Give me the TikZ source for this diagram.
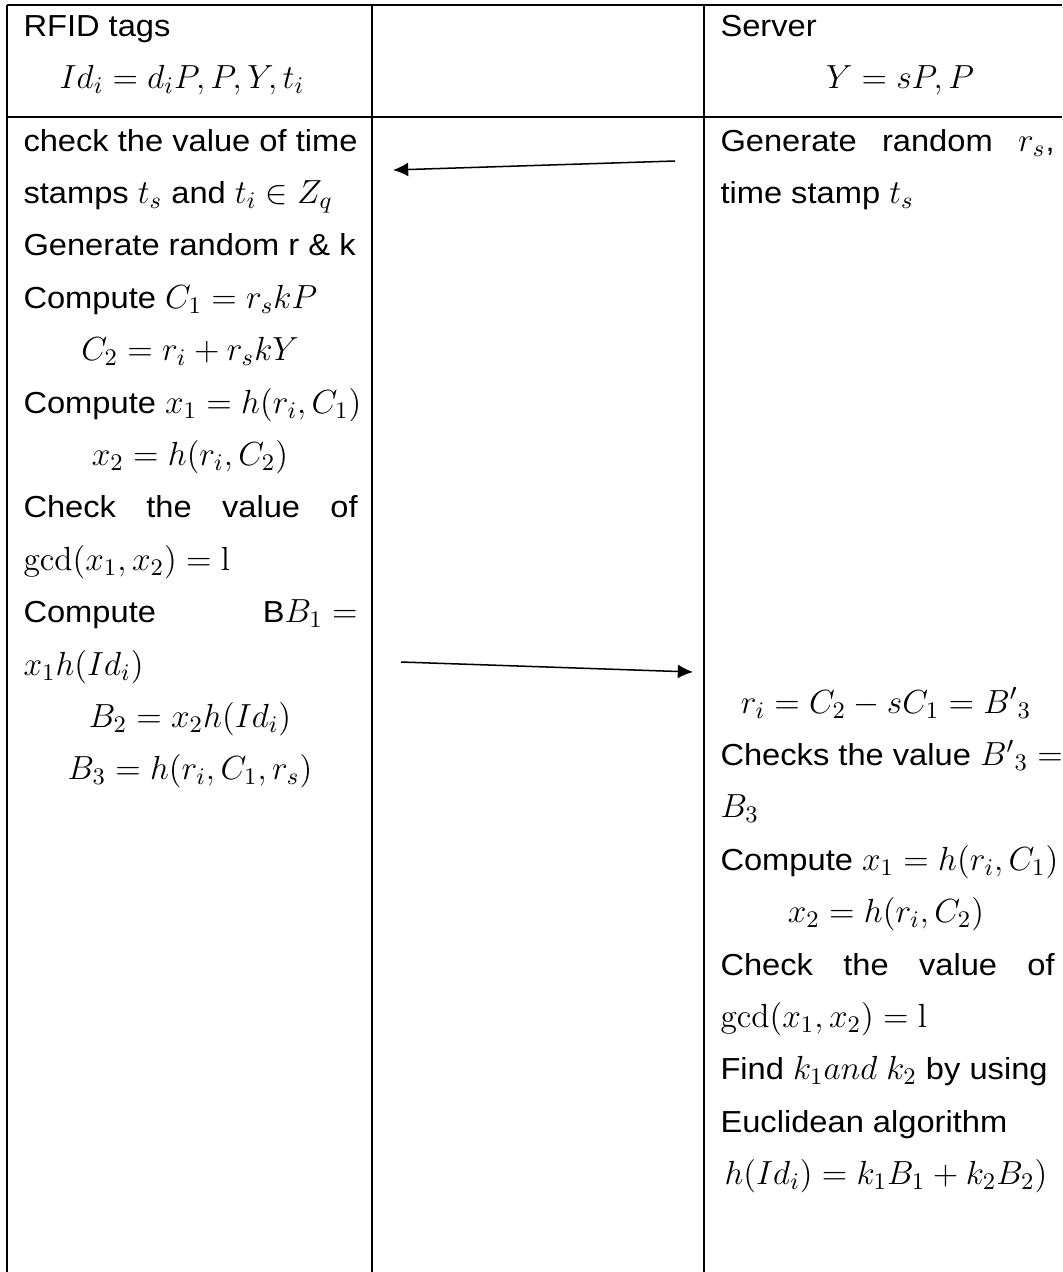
\RequirePackage{fix-cm}
\documentclass[tikz,border=0pt,12pt]{standalone}
\usepackage{amsmath}
\usepackage[no-math]{fontspec}
\setmainfont[FakeStretch=1.075]{Liberation Sans}
\DeclareMathSizes{12}{13.2}{9.4}{7.5}
\usepackage{tikz}
\usetikzlibrary{arrows.meta}

\begin{document}
\begin{tikzpicture}[x=0.395pt,y=-0.395pt,
  font=\fontsize{12}{14}\selectfont,
  grid/.style={line width=0.8pt},
  msg/.style={line width=0.6pt,-{Latex[length=6pt,width=5.5pt]}},
  txt/.style={anchor=base west,inner sep=0pt},
  eq/.style={anchor=base,inner sep=0pt},
  just/.style={anchor=base west,inner sep=0pt,text width=132pt,align=left}]
  \useasboundingbox (0,0) rectangle (1062,1272);
  % table lines
  \draw[grid] (7,5) -- (1062,5);
  \draw[grid] (7,117) -- (1062,117);
  \draw[grid] (7,5) -- (7,1272);
  \draw[grid] (372,5) -- (372,1272);
  \draw[grid] (704,5) -- (704,1272);
  % header
  \node[txt] (tagH) at (23,36) {RFID tags};
  \node[eq] (tagK) at (182,88) {$Id_i = d_iP, P, Y, t_i$};
  \node[txt] (srvH) at (720,36) {Server};
  \node[eq] (srvK) at (900,88) {$Y = sP, P$};
  % tag side
  \node[txt] (tag1) at (23,151) {check the value of time};
  \node[txt] (tag2) at (23,203.4) {stamps $t_s$ and $t_i \in Z_q$};
  \node[txt] (tag3) at (23,255.8) {Generate random r \& k};
  \node[txt] (tag4) at (23,308.2) {Compute $C_1 = r_skP$};
  \node[eq] (tag5) at (190,360.6) {$C_2 = r_i + r_skY$};
  \node[txt] (tag6) at (23,413) {Compute $x_1 = h(r_i, C_1)$};
  \node[eq] (tag7) at (190,465.4) {$x_2 = h(r_i, C_2)$};
  \node[just] (tag8) at (23,517.8) {Check\hfill the\hfill value\hfill of};
  \node[txt] (tag9) at (23,570.2) {$\gcd(x_1, x_2) = \mathrm{l}$};
  \node[just] (tag10) at (23,622.6) {Compute\hfill B$B_1 =$};
  \node[txt] (tag11) at (23,675) {$x_1h(Id_i)$};
  \node[eq] (tag12) at (190,727.4) {$B_2 = x_2h(Id_i)$};
  \node[eq] (tag13) at (190,779.8) {$B_3 = h(r_i, C_1, r_s)$};
  % server side
  \node[just] (srv1) at (720,151) {Generate\hfill random\hfill $r_s$,};
  \node[txt] (srv2) at (720,203.4) {time stamp $t_s$};
  \node[eq] (srv3) at (886,713) {$r_i = C_2 - sC_1 = {B'}_3$};
  \node[txt] (srv4) at (720,765.4) {Checks the value ${B'}_3 =$};
  \node[txt] (srv5) at (720,817.8) {$B_3$};
  \node[txt] (srv6) at (720,870.2) {Compute $x_1 = h(r_i, C_1)$};
  \node[eq] (srv7) at (886,922.6) {$x_2 = h(r_i, C_2)$};
  \node[just] (srv8) at (720,975) {Check\hfill the\hfill value\hfill of};
  \node[txt] (srv9) at (720,1027.4) {$\gcd(x_1, x_2) = \mathrm{l}$};
  \node[txt] (srv10) at (720,1079.8) {Find $k_1and$ $k_2$ by using};
  \node[txt] (srv11) at (720,1132.2) {Euclidean algorithm};
  \node[eq] (srv12) at (886,1184.6) {$h(Id_i) = k_1B_1 + k_2B_2)$};
  % messages
  \coordinate (srvOut) at (675,161);
  \coordinate (tagIn) at (393,170);
  \coordinate (tagOut) at (401,662);
  \coordinate (srvIn) at (693,672);
  \draw[msg] (srvOut) -- (tagIn);
  \draw[msg] (tagOut) -- (srvIn);
\end{tikzpicture}
\end{document}
